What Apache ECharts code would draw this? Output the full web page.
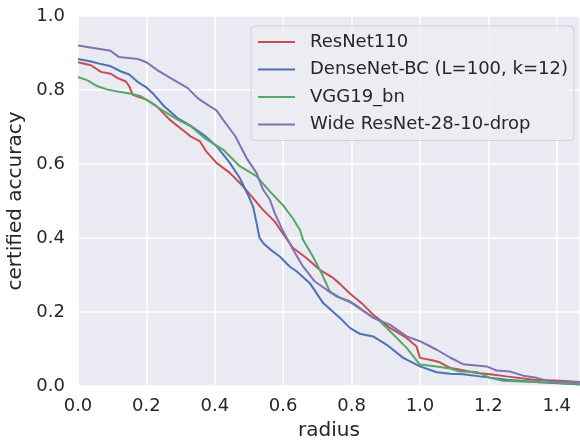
<!DOCTYPE html>
<html>
<head>
<meta charset="utf-8">
<script src="https://cdn.jsdelivr.net/npm/echarts@6/dist/echarts.min.js"></script>
<style>
  html, body { margin: 0; padding: 0; background: #fff; }
  #chart { width: 580px; height: 443px; }
</style>
</head>
<body>
<div id="chart"></div>
<script>
// curves: [radius, certified accuracy]
var resnet110 = [
  [0, 0.875], [0.038, 0.867], [0.067, 0.849], [0.096, 0.844], [0.116, 0.832], [0.14, 0.823],
  [0.15, 0.81], [0.16, 0.787], [0.2, 0.774], [0.229, 0.757], [0.268, 0.72], [0.317, 0.684],
  [0.33, 0.674], [0.356, 0.662], [0.375, 0.634], [0.405, 0.603], [0.444, 0.576], [0.483, 0.539],
  [0.512, 0.508], [0.541, 0.476], [0.575, 0.445], [0.605, 0.404], [0.629, 0.373], [0.668, 0.346],
  [0.707, 0.314], [0.746, 0.292], [0.766, 0.276], [0.795, 0.25], [0.834, 0.22], [0.863, 0.193],
  [0.912, 0.157], [0.961, 0.13], [0.99, 0.107], [1.0, 0.076], [1.039, 0.069], [1.058, 0.064],
  [1.088, 0.049], [1.107, 0.046], [1.166, 0.035], [1.205, 0.032], [1.253, 0.026], [1.331, 0.017],
  [1.41, 0.014], [1.468, 0.011]
];
var densenet = [
  [0, 0.884], [0.038, 0.877], [0.067, 0.87], [0.096, 0.864], [0.126, 0.85], [0.15, 0.842],
  [0.174, 0.822], [0.199, 0.808], [0.223, 0.787], [0.252, 0.756], [0.291, 0.724], [0.33, 0.703],
  [0.37, 0.677], [0.405, 0.648], [0.444, 0.603], [0.473, 0.562], [0.497, 0.517], [0.512, 0.485],
  [0.522, 0.441], [0.531, 0.4], [0.545, 0.383], [0.561, 0.37], [0.59, 0.35], [0.619, 0.323],
  [0.639, 0.31], [0.678, 0.278], [0.717, 0.224], [0.766, 0.184], [0.795, 0.157], [0.824, 0.141],
  [0.863, 0.134], [0.902, 0.112], [0.951, 0.076], [1.0, 0.053], [1.049, 0.037], [1.088, 0.033],
  [1.126, 0.032], [1.175, 0.026], [1.253, 0.017], [1.351, 0.01], [1.468, 0.004]
];
var vgg19bn = [
  [0, 0.835], [0.028, 0.826], [0.057, 0.81], [0.087, 0.801], [0.116, 0.796], [0.155, 0.79],
  [0.184, 0.783], [0.213, 0.766], [0.252, 0.742], [0.291, 0.72], [0.33, 0.702], [0.37, 0.67],
  [0.424, 0.639], [0.473, 0.594], [0.522, 0.567], [0.561, 0.526], [0.6, 0.488], [0.629, 0.452],
  [0.649, 0.422], [0.658, 0.395], [0.687, 0.35], [0.712, 0.305], [0.736, 0.256], [0.766, 0.239],
  [0.8, 0.224], [0.844, 0.197], [0.883, 0.175], [0.922, 0.139], [0.961, 0.103], [1.0, 0.058],
  [1.049, 0.053], [1.088, 0.047], [1.117, 0.039], [1.166, 0.038], [1.205, 0.022], [1.243, 0.014],
  [1.331, 0.011], [1.41, 0.008], [1.468, 0.005]
];
var wideResnet = [
  [0, 0.92], [0.095, 0.906], [0.12, 0.889], [0.174, 0.884], [0.2, 0.875], [0.233, 0.853],
  [0.271, 0.832], [0.321, 0.805], [0.35, 0.778], [0.379, 0.76], [0.405, 0.745], [0.424, 0.72],
  [0.46, 0.675], [0.493, 0.616], [0.522, 0.576], [0.541, 0.531], [0.561, 0.504], [0.575, 0.468],
  [0.6, 0.418], [0.629, 0.368], [0.658, 0.323], [0.692, 0.283], [0.727, 0.26], [0.756, 0.242],
  [0.795, 0.229], [0.824, 0.211], [0.863, 0.184], [0.912, 0.166], [0.961, 0.134], [1.0, 0.121],
  [1.049, 0.098], [1.088, 0.077], [1.126, 0.059], [1.195, 0.053], [1.224, 0.042], [1.263, 0.039],
  [1.302, 0.028], [1.341, 0.022], [1.38, 0.012], [1.468, 0.01]
];
var names = ['ResNet110', 'DenseNet-BC (L=100, k=12)', 'VGG19_bn', 'Wide ResNet-28-10-drop'];
var colors = ['#C44E52', '#4C72B0', '#55A868', '#8172B2'];

var myChart = echarts.init(document.getElementById('chart'));
var textColor = '#262626';
var font = 'DejaVu Sans';

function line(name, data, color) {
  return {
    name: name,
    type: 'line',
    data: data,
    symbol: 'none',
    lineStyle: { color: color, width: 2 },
    itemStyle: { color: color }
  };
}

var option = {
  animation: false,
  textStyle: { fontFamily: font },
  grid: {
    left: 78, right: 0, top: 16, bottom: 57,
    containLabel: false, outerBoundsMode: 'none',
    show: true, backgroundColor: '#EAEAF2', borderWidth: 0
  },
  legend: {
    orient: 'vertical',
    left: 251, top: 26,
    padding: [6, 6, 6, 7],
    icon: 'rect',
    itemWidth: 37, itemHeight: 2, itemGap: 7.5,
    backgroundColor: 'rgba(236,236,243,0.85)',
    borderColor: '#d0d0d8', borderWidth: 1, borderRadius: 4,
    textStyle: { fontSize: 18, color: textColor, fontFamily: font, padding: [0, 0, 0, 10], lineHeight: 20 },
    data: names
  },
  xAxis: {
    type: 'value',
    min: 0, max: 1.468, interval: 0.2,
    name: 'radius', nameLocation: 'middle', nameGap: 35,
    nameTextStyle: { fontSize: 20, color: textColor },
    axisLine: { show: false }, axisTick: { show: false },
    axisLabel: {
      fontSize: 18, color: textColor, margin: 11, showMaxLabel: false,
      formatter: function (v) { return v.toFixed(1); }
    },
    splitLine: { lineStyle: { color: '#ffffff', width: 1.5 } }
  },
  yAxis: {
    type: 'value',
    min: 0, max: 1, interval: 0.2,
    name: 'certified accuracy', nameLocation: 'middle', nameGap: 47,
    nameTextStyle: { fontSize: 20, color: textColor },
    axisLine: { show: false }, axisTick: { show: false },
    axisLabel: {
      fontSize: 18, color: textColor, margin: 13,
      formatter: function (v) { return v.toFixed(1); }
    },
    splitLine: { lineStyle: { color: '#ffffff', width: 1.5 } }
  },
  series: [
    line(names[0], resnet110, colors[0]),
    line(names[1], densenet, colors[1]),
    line(names[2], vgg19bn, colors[2]),
    line(names[3], wideResnet, colors[3])
  ]
};

myChart.setOption(option);
</script>
</body>
</html>
